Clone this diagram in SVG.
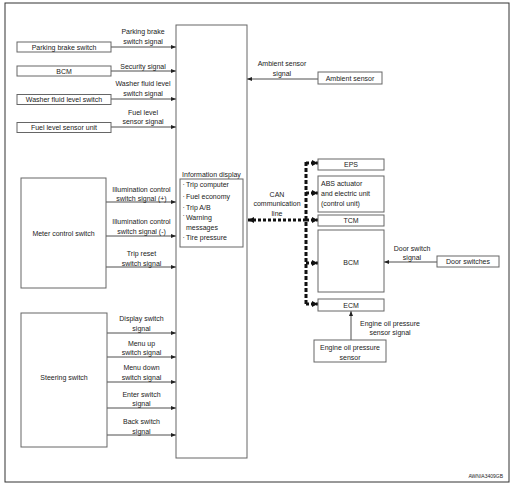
<svg xmlns="http://www.w3.org/2000/svg" width="513" height="485" viewBox="0 0 513 485">
<defs>
<style>
text{font-family:"Liberation Sans",Arial,sans-serif;font-size:7px;fill:#222}
.m{text-anchor:middle}
.box{fill:#fff;stroke:#666;stroke-width:1}
.sig{stroke:#222;stroke-width:0.8;fill:none;marker-end:url(#ah)}
.can{stroke:#111;stroke-width:3;fill:none;stroke-dasharray:4 2}
.br{stroke:#111;stroke-width:3;fill:none;stroke-dasharray:3 2;marker-end:url(#ahc)}
</style>
<marker id="ah" markerUnits="userSpaceOnUse" markerWidth="5" markerHeight="4" refX="5" refY="2" orient="auto">
<path d="M0,0 L5,2 L0,4 z" fill="#222"/>
</marker>
<marker id="ahc" markerUnits="userSpaceOnUse" markerWidth="6" markerHeight="6" refX="6" refY="3" orient="auto">
<path d="M0,0 L6,3 L0,6 z" fill="#111"/>
</marker>
</defs>
<rect x="5" y="3" width="504" height="479" fill="#fff" stroke="#333" stroke-width="1"/>

<g id="connectors">
<line class="sig" x1="111" y1="47" x2="176" y2="47"/>
<line class="sig" x1="111" y1="71" x2="176" y2="71"/>
<line class="sig" x1="111" y1="99" x2="176" y2="99"/>
<line class="sig" x1="111" y1="127" x2="176" y2="127"/>
<line class="sig" x1="106" y1="202" x2="176" y2="202"/>
<line class="sig" x1="106" y1="236" x2="176" y2="236"/>
<line class="sig" x1="106" y1="267" x2="176" y2="267"/>
<line class="sig" x1="107" y1="333" x2="176" y2="333"/>
<line class="sig" x1="107" y1="357" x2="176" y2="357"/>
<line class="sig" x1="107" y1="382" x2="176" y2="382"/>
<line class="sig" x1="107" y1="408" x2="176" y2="408"/>
<line class="sig" x1="107" y1="435" x2="176" y2="435"/>
<line class="sig" x1="318" y1="79" x2="247" y2="79"/>
<line class="sig" x1="437" y1="262" x2="384" y2="262"/>
<line class="sig" x1="351" y1="340" x2="351" y2="311"/>
<line class="can" x1="306" y1="162" x2="306" y2="305"/>
<line class="br" x1="306" y1="220" x2="248" y2="220"/>
<line class="br" x1="306" y1="163" x2="318" y2="163"/>
<line class="br" x1="306" y1="193" x2="318" y2="193"/>
<line class="br" x1="306" y1="220" x2="318" y2="220"/>
<line class="br" x1="306" y1="263" x2="318" y2="263"/>
<line class="br" x1="306" y1="304" x2="318" y2="304"/>
</g>

<g id="labels">
<text class="m" x="143" y="33.5">Parking brake</text>
<text class="m" x="143" y="43.5">switch signal</text>
<text class="m" x="143" y="68.5">Security signal</text>
<text class="m" x="143" y="85.5">Washer fluid level</text>
<text class="m" x="143" y="95.5">switch signal</text>
<text class="m" x="143" y="114.5">Fuel level</text>
<text class="m" x="143" y="123.5">sensor signal</text>
<text class="m" x="141.5" y="191.5">Illumination control</text>
<text class="m" x="141.5" y="201">switch signal (+)</text>
<text class="m" x="141.5" y="223.5">Illumination control</text>
<text class="m" x="141.5" y="233.5">switch signal (-)</text>
<text class="m" x="141.5" y="255.5">Trip reset</text>
<text class="m" x="141.5" y="265.5">switch signal</text>
<text class="m" x="141.5" y="320.5">Display switch</text>
<text class="m" x="141.5" y="330.5">signal</text>
<text class="m" x="141.5" y="345.5">Menu up</text>
<text class="m" x="141.5" y="354.5">switch signal</text>
<text class="m" x="141.5" y="369.5">Menu down</text>
<text class="m" x="141.5" y="379.5">switch signal</text>
<text class="m" x="141.5" y="396.5">Enter switch</text>
<text class="m" x="141.5" y="405.5">signal</text>
<text class="m" x="141.5" y="423.5">Back switch</text>
<text class="m" x="141.5" y="433.5">signal</text>
<text class="m" x="282" y="66">Ambient sensor</text>
<text class="m" x="282" y="75.5">signal</text>
<text class="m" x="277" y="196.5">CAN</text>
<text class="m" x="277" y="205.5">communication</text>
<text class="m" x="277" y="215.5">line</text>
<text class="m" x="412" y="250.5">Door switch</text>
<text class="m" x="412" y="259.5">signal</text>
<text class="m" x="390" y="325.5">Engine oil pressure</text>
<text class="m" x="390" y="334.5">sensor signal</text>
</g>

<g id="parking-brake-switch"><rect class="box" x="17" y="42" width="94" height="10"/><text class="m" x="64" y="49.5">Parking brake switch</text></g>
<g id="bcm-left"><rect class="box" x="17" y="66" width="94" height="10"/><text class="m" x="64" y="73.5">BCM</text></g>
<g id="washer-fluid-level-switch"><rect class="box" x="17" y="94.5" width="94" height="10"/><text class="m" x="64" y="102">Washer fluid level switch</text></g>
<g id="fuel-level-sensor-unit"><rect class="box" x="17" y="122.5" width="94" height="10"/><text class="m" x="64" y="130">Fuel level sensor unit</text></g>
<g id="meter-control-switch"><rect class="box" x="21" y="178" width="85" height="110"/><text class="m" x="63.5" y="235.5">Meter control switch</text></g>
<g id="steering-switch"><rect class="box" x="21" y="313" width="86" height="134"/><text class="m" x="64" y="379.5">Steering switch</text></g>

<g id="information-display">
<rect class="box" x="176" y="25" width="71" height="433"/>
<text class="m" x="211.5" y="176.5">Information display</text>
<rect class="box" x="180" y="179" width="63" height="68"/>
<text x="182.5" y="186.5">·</text><text x="186" y="186.5">Trip computer</text>
<text x="182.5" y="198.5">·</text><text x="186" y="198.5">Fuel economy</text>
<text x="182.5" y="209.5">·</text><text x="186" y="209.5">Trip A/B</text>
<text x="182.5" y="218">·</text><text x="186" y="219.5">Warning</text>
<text x="186" y="229.5">messages</text>
<text x="182.5" y="239.5">·</text><text x="186" y="239.5">Tire pressure</text>
</g>

<g id="ambient-sensor"><rect class="box" x="318" y="72" width="64" height="12"/><text class="m" x="350" y="80.5">Ambient sensor</text></g>
<g id="eps"><rect class="box" x="318" y="159" width="66" height="11"/><text class="m" x="351" y="167">EPS</text></g>
<g id="abs"><rect class="box" x="318" y="176" width="66" height="36"/>
<text x="321" y="185.5">ABS actuator</text><text x="321" y="195.5">and electric unit</text><text x="321" y="205.5">(control unit)</text></g>
<g id="tcm"><rect class="box" x="318" y="215" width="66" height="11"/><text class="m" x="351" y="223">TCM</text></g>
<g id="bcm"><rect class="box" x="318" y="230" width="66" height="62"/><text class="m" x="351" y="264.5">BCM</text></g>
<g id="ecm"><rect class="box" x="318" y="299" width="66" height="12"/><text class="m" x="351" y="307.5">ECM</text></g>
<g id="door-switches"><rect class="box" x="437" y="256" width="62" height="11"/><text class="m" x="468" y="264">Door switches</text></g>
<g id="engine-oil-pressure-sensor"><rect class="box" x="314" y="340" width="72" height="22"/>
<text class="m" x="350" y="349.5">Engine oil pressure</text><text class="m" x="350" y="359.5">sensor</text></g>

<text x="503" y="478" style="font-size:5px;text-anchor:end">AWNIA3409GB</text>
</svg>
